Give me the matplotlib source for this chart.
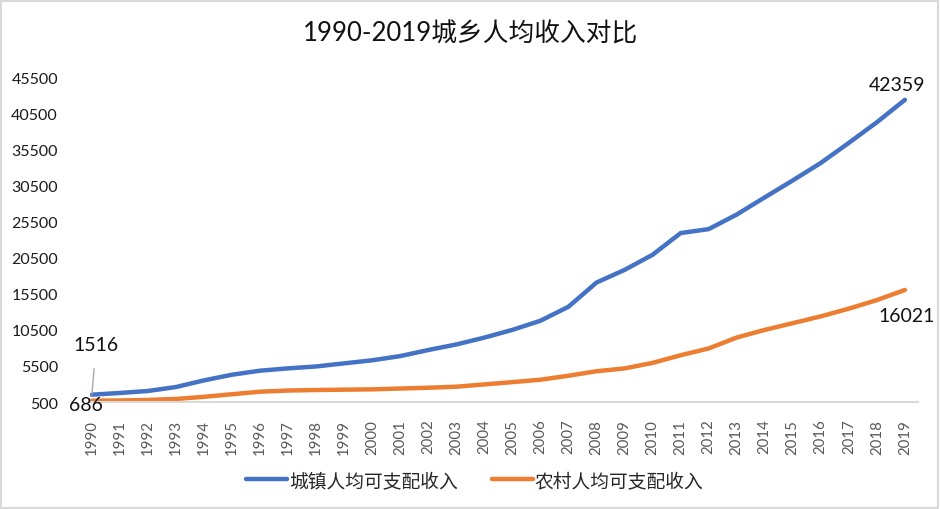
import matplotlib.pyplot as plt
from matplotlib.patches import Rectangle

plt.rcParams['font.family'] = ['Lato', 'Noto Sans CJK SC', 'DejaVu Sans']

years = list(range(1990, 2020))
urban = [1516, 1750, 2027, 2577, 3496, 4283, 4839, 5160, 5425, 5854,
         6280, 6860, 7703, 8472, 9422, 10493, 11759, 13700, 17050, 18800,
         20900, 23900, 24450, 26467, 28844, 31195, 33616, 36396, 39251, 42359]
rural = [686, 709, 784, 922, 1221, 1578, 1926, 2090, 2162, 2210,
         2253, 2366, 2476, 2622, 2936, 3255, 3587, 4140, 4761, 5153,
         5919, 6977, 7917, 9430, 10489, 11422, 12363, 13432, 14617, 16021]
yticks = list(range(500, 45501, 5000))

fig = plt.figure(figsize=(9.4, 5.1), dpi=100)
ax = fig.add_axes([0.0957, 0.2098, 0.881, 0.637])

x = list(range(len(years)))
ax.plot(x, urban, color='#4472C4', lw=3.2, solid_capstyle='round', label='城镇人均可支配收入')
ax.plot(x, rural, color='#ED7D31', lw=3.2, solid_capstyle='round', label='农村人均可支配收入')

ax.set_xlim(-0.07, 29.47)
ax.set_ylim(500, 45500)
ax.set_yticks(yticks)
ax.set_yticklabels([str(v) for v in yticks], fontsize=11.5, color='#1a1a1a')
ax.set_xticks(x)
ax.set_xticklabels([str(y) for y in years], rotation=90, fontsize=10.8, color='#595959')
ax.tick_params(axis='y', length=0, pad=23)
ax.tick_params(axis='x', length=0, pad=12)
for s in ['top', 'right', 'left']:
    ax.spines[s].set_visible(False)
ax.spines['bottom'].set_color('#d9d9d9')
ax.spines['bottom'].set_linewidth(1.5)

# data labels
ax.annotate(str(urban[0]), xy=(0, urban[0]), xytext=(0.15, 8400), fontsize=14,
            ha='center', va='center', color='#111111',
            arrowprops=dict(arrowstyle='-', color='#a6a6a6', lw=1, shrinkA=9, shrinkB=0))
ax.text(-0.2, rural[0] - 550, str(rural[0]), fontsize=14, ha='center', va='center', color='#111111')
ax.text(29 - 0.28, urban[-1] + 2100, str(urban[-1]), fontsize=14, ha='center', va='center', color='#111111')
ax.text(29.05, rural[-1] - 3600, str(rural[-1]), fontsize=14, ha='center', va='center', color='#111111')

fig.suptitle('1990-2019城乡人均收入对比', x=0.5, y=0.957, fontsize=18.5, color='#111111')

leg = fig.legend(loc='center', bbox_to_anchor=(0.505, 0.057), ncol=2, frameon=False,
                 fontsize=13.5, handlelength=2.2, handletextpad=0.1, columnspacing=1.8)
for t in leg.get_texts():
    t.set_color('#262626')

fig.patches.append(Rectangle((0.001, 0.002), 0.997, 0.995, transform=fig.transFigure,
                             fill=False, edgecolor='#d9d9d9', lw=1.5))

fig.savefig('out.png', dpi=100)
